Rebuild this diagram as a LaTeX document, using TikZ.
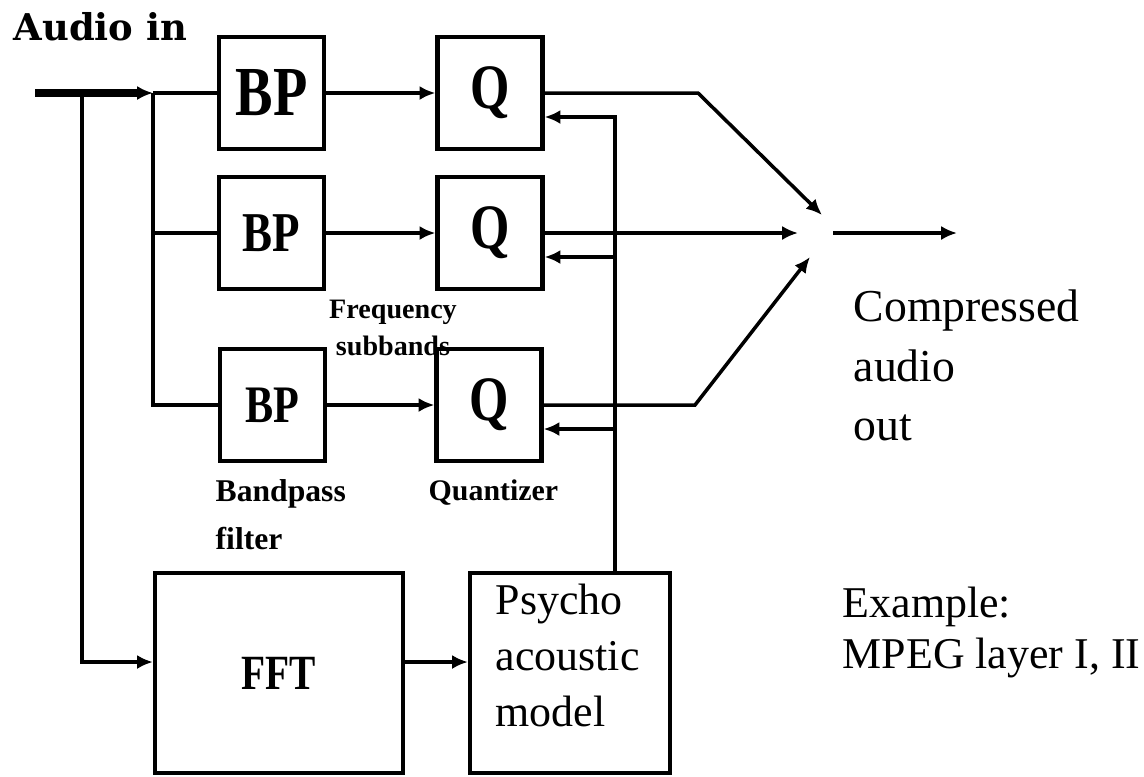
\documentclass[tikz,border=0pt]{standalone}
\usepackage{fontspec}
\setmainfont{Liberation Serif}
\newfontfamily\narrowfont[FakeStretch=0.8]{Liberation Serif}
\newfontfamily\slabfont{DejaVu Serif}
\usetikzlibrary{arrows.meta}

\begin{document}
\begin{tikzpicture}[
    >={Latex[length=4.5pt,width=4pt]},
    block/.style={
        draw=black, rectangle, line width=1.2pt,
        minimum width=1.05cm, minimum height=1.12cm, inner sep=0pt
    },
    bigblock/.style={block, minimum width=2.48cm, minimum height=2.00cm},
    wire/.style={line width=1pt},
    note/.style={inner sep=0pt, align=left, anchor=north west}
]

\useasboundingbox (0,0) rectangle (11.44,-7.76);

% Title
\node[note, font=\slabfont\bfseries\fontsize{10.5}{12}\selectfont] (title) at (0.13,-0.12) {Audio in};

% -------------------------
% Filter bank and quantizers
% -------------------------

% 1. Bandpass filters
\node[block, font=\narrowfont\bfseries\fontsize{20}{20}\selectfont] (BP1) at (2.715,-0.93) {\raisebox{-0.06cm}{BP}};
\node[block, font=\narrowfont\bfseries\fontsize{16}{16}\selectfont] (BP2) at (2.715,-2.33) {\raisebox{-0.03cm}{BP}};
\node[block, font=\narrowfont\bfseries\fontsize{15}{15}\selectfont] (BP3) at (2.725,-4.05) {\raisebox{-0.03cm}{BP}};

% 2. Quantizers
\node[block, font=\narrowfont\bfseries\fontsize{18}{18}\selectfont] (Q1) at (4.90,-0.93) {\raisebox{-0.05cm}{Q}};
\node[block, font=\narrowfont\bfseries\fontsize{18}{18}\selectfont] (Q2) at (4.90,-2.33) {\raisebox{-0.05cm}{Q}};
\node[block, font=\narrowfont\bfseries\fontsize{18}{18}\selectfont] (Q3) at (4.89,-4.05) {\raisebox{-0.05cm}{Q}};

% 3. FFT and psychoacoustic model (Bottom)
\node[bigblock, font=\narrowfont\bfseries\fontsize{14}{14}\selectfont] (FFT) at (2.79,-6.73) {FFT};
\node[bigblock, minimum width=2.00cm] (Psycho) at (5.70,-6.73) {};
\node[note, font=\fontsize{12.5}{16}\selectfont] (PsychoText) at ([shift={(0.27,-0.12)}]Psycho.north west) {Psycho\\acoustic\\model};

% Labels
\node[inner sep=0pt, align=center, font=\bfseries\fontsize{8}{10.5}\selectfont] (subbands) at (3.93,-3.28) {Frequency\\subbands};
\node[note, font=\bfseries\fontsize{9}{13.5}\selectfont] (bandpass) at (2.15,-4.79) {Bandpass\\filter};
\node[note, font=\bfseries\fontsize{8.5}{12}\selectfont] (quantizer) at (4.28,-4.79) {Quantizer};
\node[note, font=\fontsize{13}{17}\selectfont] (outlabel) at (8.53,-2.89) {Compressed\\audio\\out};
\node[note, font=\fontsize{12.5}{14.5}\selectfont] (example) at (8.42,-5.86) {Example:\\MPEG layer I, II};

% -------------------------
% Connections
% -------------------------
\coordinate (in) at (0.35,-0.93);
\coordinate (tap) at (0.82,-0.93);
\coordinate (split) at (1.53,-0.93);
\coordinate (mixA) at (8.22,-2.15);
\coordinate (mixB) at (7.98,-2.33);
\coordinate (mixC) at (8.10,-2.57);
\coordinate (outS) at (8.33,-2.33);
\coordinate (outE) at (9.57,-2.33);

% Input -> filters
\draw[->, line width=2pt] (in) -- (split);
\draw[wire] (split) -- (BP1.west);
\draw[wire] (split) |- (BP2.west);
\draw[wire] (split) |- (BP3.west);
\draw[->, wire] (tap) |- ([yshift=0.11cm]FFT.west);

% Filters -> quantizers
\draw[->, wire] (BP1) -- (Q1);
\draw[->, wire] (BP2) -- (Q2);
\draw[->, wire] (BP3) -- (Q3);

% Quantizers -> output
\draw[->, wire] (Q1.east) -- (6.98,-0.93) -- (mixA);
\draw[->, wire] (Q2.east) -- (mixB);
\draw[->, wire] (Q3.east) -- (6.95,-4.05) -- (mixC);
\draw[->, wire] (outS) -- (outE);

% FFT -> model -> quantizers
\draw[->, wire] ([yshift=0.11cm]FFT.east) -- ([yshift=0.11cm]Psycho.west);
\draw[->, wire] ([xshift=0.45cm]Psycho.north) |- ([yshift=-0.24cm]Q1.east);
\draw[->, wire] ([xshift=0.45cm]Psycho.north) |- ([yshift=-0.24cm]Q2.east);
\draw[->, wire] ([xshift=0.45cm]Psycho.north) |- ([yshift=-0.24cm]Q3.east);

\end{tikzpicture}
\end{document}
